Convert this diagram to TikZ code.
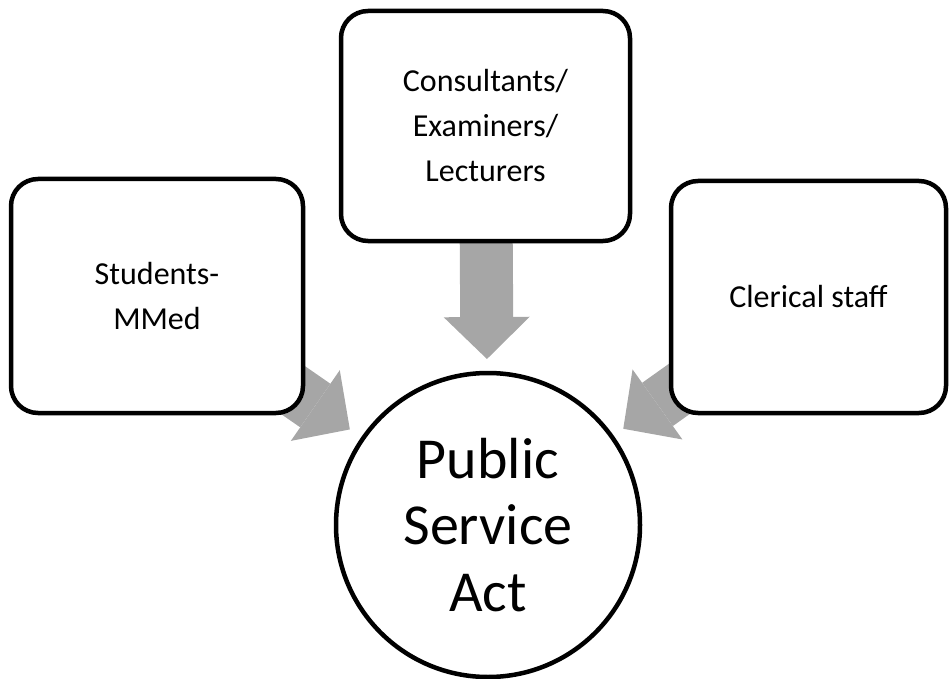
\documentclass[tikz,border=0pt]{standalone}
\usepackage{fontspec}
\setmainfont{Carlito}
\usetikzlibrary{calc,backgrounds}
\definecolor{flowgray}{RGB}{166,166,166}
\begin{document}
\begin{tikzpicture}[x=1pt,y=-1pt,
  role/.style={draw=black, line width=4.5pt, fill=white, rounded corners=27pt,
    align=center, inner sep=0pt, font=\fontsize{32}{45}\selectfont},
  actnode/.style={circle, draw=black, line width=4.5pt, fill=white,
    minimum size=304pt, inner sep=0pt, align=center,
    font=\fontsize{58}{66.5}\selectfont},
  flowshaft/.style={draw=flowgray, line width=53pt},
  flowhead/.style={fill=flowgray}
]
\useasboundingbox (0,0) rectangle (950,679);

% the three groups and the act they feed into
\node[role, minimum width=292pt, minimum height=234pt] (students) at (157,296) {Students-\\MMed};
\node[role, minimum width=289pt, minimum height=230pt] (staff) at (485.5,126) {Consultants/\\Examiners/\\Lecturers};
\node[role, minimum width=275pt, minimum height=232pt] (clerical) at (808.5,297) {Clerical staff};
\node[actnode] (act) at (488,525) {Public\\Service\\Act};

% broad grey arrows, each pointing at the centre of the circle
\begin{scope}[on background layer]
  \foreach \src/\tipd in {students/168, staff/166, clerical/166} {
    \coordinate (\src-tip) at ($(act.center)!\tipd pt!(\src.center)$);
    \coordinate (\src-base) at ($(act.center)!\tipd pt+42pt!(\src.center)$);
    \draw[flowshaft] (\src.center) -- (\src-base);
    \fill[flowhead] (\src-tip) -- ($(\src-base)!43pt!90:(\src-tip)$)
      -- ($(\src-base)!43pt!-90:(\src-tip)$) -- cycle;
  }
\end{scope}
\end{tikzpicture}
\end{document}
